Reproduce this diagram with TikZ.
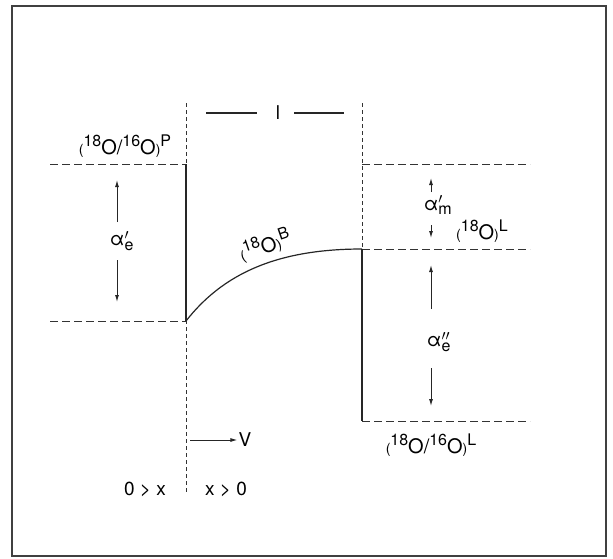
\documentclass[tikz,border=0pt]{standalone}
\usepackage{fontspec}
\setmainfont{TeX Gyre Heros}
\usetikzlibrary{arrows.meta}

\newcommand{\up}[1]{\raisebox{0.4em}{\fontsize{16}{16}\selectfont #1}}
\newcommand{\lo}[1]{{\fontsize{14}{14}\selectfont #1}}
\newcommand{\coef}[2]{$\mbox{α}#1_{\mbox{\fontsize{16}{16}\selectfont #2}}$}

\begin{document}
\begin{tikzpicture}[
  x=1pt,y=-1pt,
  font=\fontsize{19}{22}\selectfont,
  level/.style={black!80,line width=0.9pt,dash pattern=on 8pt off 4pt},
  guide/.style={black!80,line width=0.8pt,dash pattern=on 4pt off 3pt},
  wall/.style={black!85,line width=1.2pt},
  arrow/.style={-{Latex[length=7pt,width=4pt]},black!85,line width=1pt},
  lbl/.style={inner sep=1pt},
  iso/.style={lbl,font=\fontsize{20}{22}\selectfont}
]
\useasboundingbox (0,0) rectangle (613,558);
\draw[black!75,line width=1.4pt] (12,6) rectangle (606,556);

% guides
\draw[guide] (186,103) -- (186,492);
\draw[guide] (362,103) -- (362,249);

% levels
\draw[level] (50,164) -- (186,164);
\draw[level] (50,321) -- (186,321);
\draw[level] (362,164) -- (530,164);
\draw[level] (362,249) -- (530,249);
\draw[level] (362,421) -- (530,421);

% walls and profile
\draw[wall] (186,164) -- (186,321);
\draw[wall] (362,249) -- (362,421);
\draw[wall] (186,321) .. controls (222,275) and (275,249) .. (362,249);

% length
\node[lbl] (len) at (278,113) {l};
\coordinate (lenL) at (206,113);
\coordinate (lenR) at (344,113);
\draw[wall] (lenL) -- (257,113);
\draw[wall] (294,113) -- (lenR);

% labels
\node[iso] (ratioP) at (125,146) {\lo{(}\up{18}O/\up{16}O\lo{)}\up{P}};
\node[iso,rotate=19] (oxB) at (265,245) {\lo{(}\up{18}O\lo{)}\up{B}};
\node[iso] (oxL) at (482,231) {\lo{(}\up{18}O\lo{)}\up{L}};
\node[iso] (ratioL) at (431,445) {\lo{(}\up{18}O/\up{16}O\lo{)}\up{L}};

\node[lbl] (ae1) at (122,241) {\coef{'}{e}};
\node[lbl] (am1) at (438,205) {\coef{'}{m}};
\node[lbl] (ae2) at (439,342) {\coef{''}{e}};

\node[lbl] (vel) at (245,440) {V};
\node[lbl] (neg) at (145,489) {0 > x};
\node[lbl] (pos) at (226,489) {x > 0};

% arrows
\coordinate (ae1a) at (117,222); \coordinate (ae1b) at (117,180);
\coordinate (ae1c) at (117,260); \coordinate (ae1d) at (117,302);
\draw[arrow] (ae1a) -- (ae1b);
\draw[arrow] (ae1c) -- (ae1d);

\coordinate (am1a) at (431,192); \coordinate (am1b) at (431,178);
\coordinate (am1c) at (431,225); \coordinate (am1d) at (431,238);
\draw[arrow] (am1a) -- (am1b);
\draw[arrow] (am1c) -- (am1d);

\coordinate (ae2a) at (431,309); \coordinate (ae2b) at (431,265);
\coordinate (ae2c) at (431,368); \coordinate (ae2d) at (431,406);
\draw[arrow] (ae2a) -- (ae2b);
\draw[arrow] (ae2c) -- (ae2d);

\coordinate (velA) at (190,440);
\draw[arrow] (velA) -- (vel.west);
\end{tikzpicture}
\end{document}
